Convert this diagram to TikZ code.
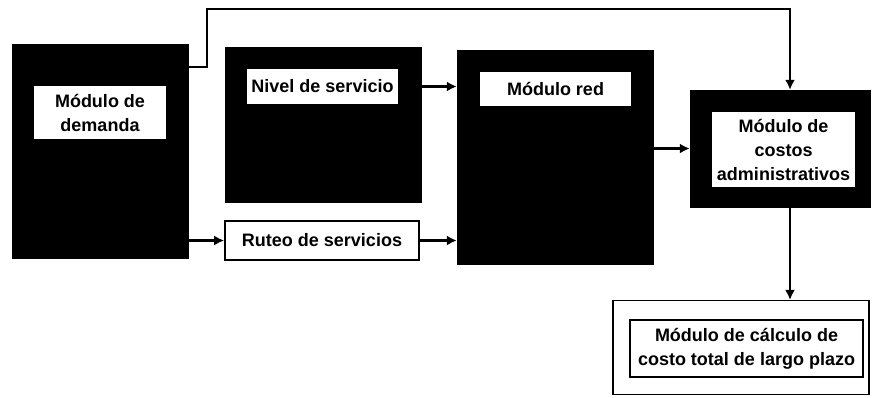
\documentclass[tikz,border=0pt]{standalone}
\usepackage{fontspec}
\setmainfont{Liberation Sans}
\usepackage{tikz}
\usetikzlibrary{positioning, arrows.meta}

\begin{document}
\begin{tikzpicture}[x=1pt,y=-1pt]
	\tikzstyle{bloque}=[fill=black,draw=black,inner sep=0pt]
	\tikzstyle{rotulo}=[fill=white,inner sep=0pt,align=center,font=\bfseries\fontsize{18}{24}\selectfont]
	\tikzstyle{flecha}=[line width=2.8pt,-{Latex[length=10pt,width=10pt]}]
	\useasboundingbox (0,0) rectangle (872,397);
	% bloques oscuros
	\node[bloque,minimum width=176pt,minimum height=214pt](demanda) at (100,151) {};
	\node[rotulo,minimum width=132pt,minimum height=53pt](demandaTxt) at (100,112.5) {M\'odulo de\\demanda};
	\node[bloque,minimum width=196pt,minimum height=155pt](nivel) at (323,124.5) {};
	\node[rotulo,minimum width=151pt,minimum height=35pt](nivelTxt) at (322.5,86.5) {Nivel de servicio};
	\node[bloque,minimum width=196pt,minimum height=214pt](red) at (555,157) {};
	\node[rotulo,minimum width=151pt,minimum height=34pt](redTxt) at (555.5,89) {M\'odulo red};
	\node[bloque,minimum width=180pt,minimum height=117pt](costos) at (780,148.5) {};
	\node[rotulo,minimum width=143pt,minimum height=75pt](costosTxt) at (783.5,149.5) {M\'odulo de\\costos\\administrativos};
	% bloques claros
	\node[rotulo,draw=black,line width=1.6pt,minimum width=194pt,minimum height=39pt](ruteo) at (322,240.5) {Ruteo de servicios};
	\node[draw=black,line width=1.2pt,minimum width=256pt,minimum height=94pt](final) at (741,347.5) {};
	\node[rotulo,draw=black,line width=2.6pt,minimum width=233pt,minimum height=57pt](finalTxt) at (746.5,348.5) {M\'odulo de c\'alculo de\\costo total de largo plazo};
	% conexiones
	\coordinate (codoA) at (207,67);
	\coordinate (codoB) at (790,9);
	\draw[flecha] (demanda.east |- codoA) -- (codoA) |- (codoB) -- (codoB |- costos.north);
	\draw[flecha] (nivel.east |- nivelTxt) -- (red.west |- nivelTxt);
	\draw[flecha] (demanda.east |- ruteo) -- (ruteo.west);
	\draw[flecha] (ruteo.east) -- (red.west |- ruteo);
	\draw[flecha] (red.east |- costos) -- (costos.west);
	\draw[flecha] (costos.south -| codoB) -- (final.north -| codoB);
\end{tikzpicture}
\end{document}
